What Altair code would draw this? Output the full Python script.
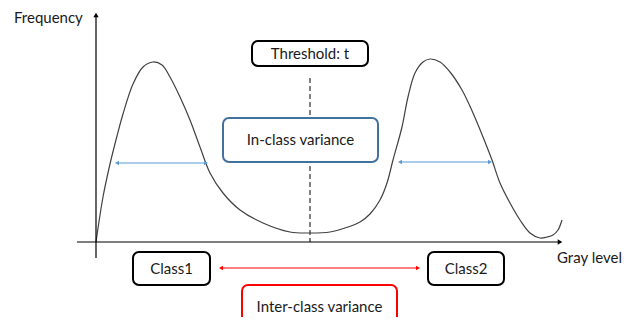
import altair as alt
import pandas as pd

# Histogram-like curve (image-pixel coordinate system of the diagram)
curve_x = [96, 103, 110, 117, 123, 133, 143, 153, 162, 170, 180, 190, 200, 210, 223, 240,
           263, 290, 310, 330, 348, 360, 370, 380, 387, 393, 402, 408, 415, 423, 430, 440, 450,
           462, 473, 483, 492, 500, 510, 520, 530, 540, 547, 553, 558, 562]
curve_y = [242, 197, 164, 136, 114, 84, 67, 62, 65, 77, 97, 120, 147, 173, 193, 210,
           223, 232, 233, 232, 227, 222, 214, 200, 183, 160, 127, 97, 73, 62, 59, 62, 72,
           90, 113, 137, 160, 183, 203, 220, 233, 238, 237, 235, 230, 220]

# Boxes: label, x-left, x-right, y-top, y-bottom, stroke colour
box_labels = ["Threshold: t", "In-class variance", "Class1", "Class2", "Inter-class variance"]
box_x1 = [252, 223, 133, 428, 242]
box_x2 = [368, 378, 210, 504, 397]
box_y1 = [41, 118, 252, 252, 285]
box_y2 = [66, 162, 285, 285, 335]
box_color = ["#000000", "#41719C", "#000000", "#000000", "#FF0000"]

# Double arrows: x-start, x-end, y, colour
arr_x1 = [117, 400, 221]
arr_x2 = [206, 490, 418]
arr_y = [163, 162, 268]
arr_color = ["#5B9BD5", "#5B9BD5", "#FF0000"]

axis_labels = ["Frequency", "Gray level"]

X = lambda f: alt.X(f, type="quantitative", scale=alt.Scale(domain=[8, 627], nice=False, zero=False), axis=None)
Y = lambda f: alt.Y(f, type="quantitative", scale=alt.Scale(domain=[8, 317], nice=False, zero=False, reverse=True), axis=None)

curve_df = pd.DataFrame({"x": curve_x, "y": curve_y})
curve = alt.Chart(curve_df).mark_line(color="#404040", strokeWidth=1.2, interpolate="catmull-rom").encode(
    x=X("x"), y=Y("y"))

# axes
axes_df = pd.DataFrame({"x": [96, 77], "x2": [96, 558], "y": [16, 242], "y2": [258, 242]})
axes = alt.Chart(axes_df).mark_rule(color="black", strokeWidth=1.2).encode(
    x=X("x"), x2="x2", y=Y("y"), y2="y2")
heads_df = pd.DataFrame({"x": [96, 560], "y": [15, 242], "shape": ["triangle-up", "triangle-right"]})
heads = alt.Chart(heads_df).mark_point(filled=True, color="black", size=28, opacity=1).encode(
    x=X("x"), y=Y("y"), shape=alt.Shape("shape:N", scale=None))

# threshold dashed line
thr_df = pd.DataFrame({"x": [310], "y": [78], "y2": [242]})
thr = alt.Chart(thr_df).mark_rule(color="black", strokeWidth=1, strokeDash=[5, 3]).encode(
    x=X("x"), y=Y("y"), y2="y2")

# boxes
box_df = pd.DataFrame({"label": box_labels, "x": box_x1, "x2": box_x2, "y": box_y1, "y2": box_y2,
                       "c": box_color})
box_df["cx"] = (box_df["x"] + box_df["x2"]) / 2
box_df["cy"] = [53.5, 140, 268.5, 268.5, 307]
boxes = alt.Chart(box_df).mark_rect(fill="white", strokeWidth=2, cornerRadius=6).encode(
    x=X("x"), x2="x2", y=Y("y"), y2="y2", stroke=alt.Color("c:N", scale=None))
box_text = alt.Chart(box_df).mark_text(font="Lato", fontSize=15, color="#1a1a1a").encode(
    x=X("cx"), y=Y("cy"), text="label:N")

# arrows
arr_df = pd.DataFrame({"x": arr_x1, "x2": arr_x2, "y": arr_y, "c": arr_color})
arr_lines = alt.Chart(arr_df).mark_rule(strokeWidth=1.2).encode(
    x=X("x"), x2="x2", y=Y("y"), color=alt.Color("c:N", scale=None))
ah_df = pd.DataFrame({
    "x": arr_x1 + arr_x2,
    "y": arr_y + arr_y,
    "c": arr_color + arr_color,
    "shape": ["triangle-left"] * 3 + ["triangle-right"] * 3,
})
arr_heads = alt.Chart(ah_df).mark_point(filled=True, size=22, opacity=1).encode(
    x=X("x"), y=Y("y"), color=alt.Color("c:N", scale=None), shape=alt.Shape("shape:N", scale=None))

# axis titles
lab_df = pd.DataFrame({"label": axis_labels, "x": [14, 557], "y": [18, 258]})
labels = alt.Chart(lab_df).mark_text(font="Lato", fontSize=15, color="#1a1a1a", align="left").encode(
    x=X("x"), y=Y("y"), text="label:N")

chart = alt.layer(thr, curve, axes, heads, arr_lines, arr_heads, boxes, box_text, labels).properties(
    width=619, height=309, padding=0, autosize=alt.AutoSizeParams(type="none"),
    background="white"
).configure_view(stroke=None)

chart.save("out.html", embed_options={"renderer": "svg", "actions": False})
